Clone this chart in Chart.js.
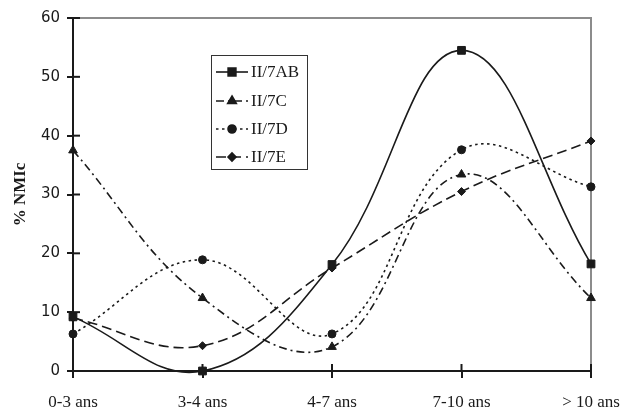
<!DOCTYPE html>
<html>
<head>
<meta charset="utf-8">
<script src="https://cdn.jsdelivr.net/npm/chart.js@4"></script>
<style>
	html, body { margin: 0; padding: 0; background: #fff; }
	#wrap { width: 623px; height: 411px; }
</style>
</head>
<body>
<div id="wrap"><canvas id="nmic"></canvas></div>
<script>
// age classes and % NMIc per lineage
var categories = ["0-3 ans", "3-4 ans", "4-7 ans", "7-10 ans", "> 10 ans"];
var seriesNames = ["II/7AB", "II/7C", "II/7D", "II/7E"];
var valsAB = [9.2, 0, 18.1, 54.5, 18.2];
var valsC = [37.5, 12.4, 4.1, 33.4, 12.4];
var valsD = [6.3, 18.9, 6.3, 37.6, 31.3];
var valsE = [9.0, 4.3, 17.5, 30.5, 39.1];
var yMin = 0, yMax = 60, yStep = 10;

var INK = "#1a1a1a";
var serif = "'Liberation Serif', serif";

var looks = [
	{ dash: [], off: 0, point: "rect", r: 5.5 },
	{ dash: [8, 4, 2, 4], off: 0, point: "triangle", r: 5 },
	{ dash: [2.5, 3.5], off: 0, point: "circle", r: 4 },
	{ dash: [10, 5], off: 0, point: "rectRot", r: 4 }
];

function makeSets() {
	return [valsAB, valsC, valsD, valsE].map((vals, i) => ({
		label: seriesNames[i],
		data: vals,
		borderColor: INK,
		backgroundColor: INK,
		borderWidth: 1.6,
		borderDash: looks[i].dash,
		pointStyle: looks[i].point,
		pointRadius: looks[i].r,
		pointBackgroundColor: INK,
		pointBorderColor: INK,
		pointBorderWidth: 1,
		tension: 0.4,
		fill: false,
		clip: false
	}));
}

// grey frame on top/right + ticks crossing the axes
var frameTicks = {
	id: "frameTicks",
	beforeDatasetsDraw(chart) {
		var ctx = chart.ctx, a = chart.chartArea;
		ctx.save();
		ctx.strokeStyle = "#8c8c8c";
		ctx.lineWidth = 2;
		ctx.beginPath();
		ctx.moveTo(a.left, a.top);
		ctx.lineTo(a.right, a.top);
		ctx.lineTo(a.right, a.bottom);
		ctx.stroke();
		ctx.strokeStyle = INK;
		ctx.lineWidth = 2;
		var y = chart.scales.y, x = chart.scales.x;
		y.ticks.forEach((t, i) => {
			var py = y.getPixelForTick(i);
			ctx.beginPath(); ctx.moveTo(a.left, py); ctx.lineTo(a.left + 7, py); ctx.stroke();
		});
		x.ticks.forEach((t, i) => {
			var px = x.getPixelForTick(i);
			ctx.beginPath(); ctx.moveTo(px, a.bottom); ctx.lineTo(px, a.bottom - 7); ctx.stroke();
		});
		ctx.restore();
	}
};

// boxed legend inside the plot
var boxLegend = {
	id: "boxLegend",
	afterDraw(chart) {
		var ctx = chart.ctx;
		var bx = 211, by = 55, bw = 96, bh = 114;
		var rows = [72, 101, 129, 157];
		ctx.save();
		ctx.fillStyle = "#fff";
		ctx.fillRect(bx, by, bw, bh);
		ctx.strokeStyle = "#333";
		ctx.lineWidth = 1;
		ctx.strokeRect(bx + 0.5, by + 0.5, bw, bh);
		chart.data.datasets.forEach((ds, i) => {
			var ry = rows[i];
			ctx.strokeStyle = INK;
			ctx.lineWidth = 1.6;
			ctx.setLineDash(looks[i].dash);
			ctx.beginPath(); ctx.moveTo(216, ry); ctx.lineTo(248, ry); ctx.stroke();
			ctx.setLineDash([]);
			ctx.fillStyle = INK;
			Chart.helpers.drawPoint(ctx, { pointStyle: looks[i].point, radius: looks[i].r, borderWidth: 1 }, 232, ry);
			ctx.fill();
			ctx.font = "17px " + serif;
			ctx.textBaseline = "middle";
			ctx.fillText(ds.label, 251, ry + 1);
		});
		ctx.restore();
	}
};

var ctx = document.getElementById("nmic").getContext("2d");
var chart = new Chart(ctx, {
	type: "line",
	data: { labels: categories, datasets: makeSets() },
	plugins: [frameTicks, boxLegend],
	options: {
		responsive: true,
		maintainAspectRatio: false,
		animation: false,
		layout: { padding: { left: 0, right: 32, top: 18, bottom: 0 } },
		elements: { line: { capBezierPoints: false } },
		plugins: { legend: { display: false }, tooltip: { enabled: false } },
		scales: {
			x: {
				offset: false,
				afterFit: s => { s.height = 40; s.paddingLeft = 0; s.paddingRight = 0; },
				grid: { display: true, drawOnChartArea: false, drawTicks: true, tickLength: 7, color: INK, lineWidth: 2 },
				border: { display: true, color: INK, width: 2 },
				ticks: { color: INK, font: { family: serif, size: 17 }, padding: 14, maxRotation: 0 }
			},
			y: {
				min: yMin,
				max: yMax,
				afterFit: s => { s.width = 73; s.paddingTop = 0; s.paddingBottom = 0; },
				grid: { display: true, drawOnChartArea: false, drawTicks: true, tickLength: 6, color: INK, lineWidth: 2 },
				border: { display: true, color: INK, width: 2 },
				ticks: { stepSize: yStep, color: INK, font: { family: "'DejaVu Sans', sans-serif", size: 15 }, padding: 7 },
				title: { display: true, text: "% NMIc", color: INK, font: { family: serif, size: 17, weight: "bold" }, padding: { top: 10, bottom: 0 } }
			}
		}
	}
});
</script>
</body>
</html>
